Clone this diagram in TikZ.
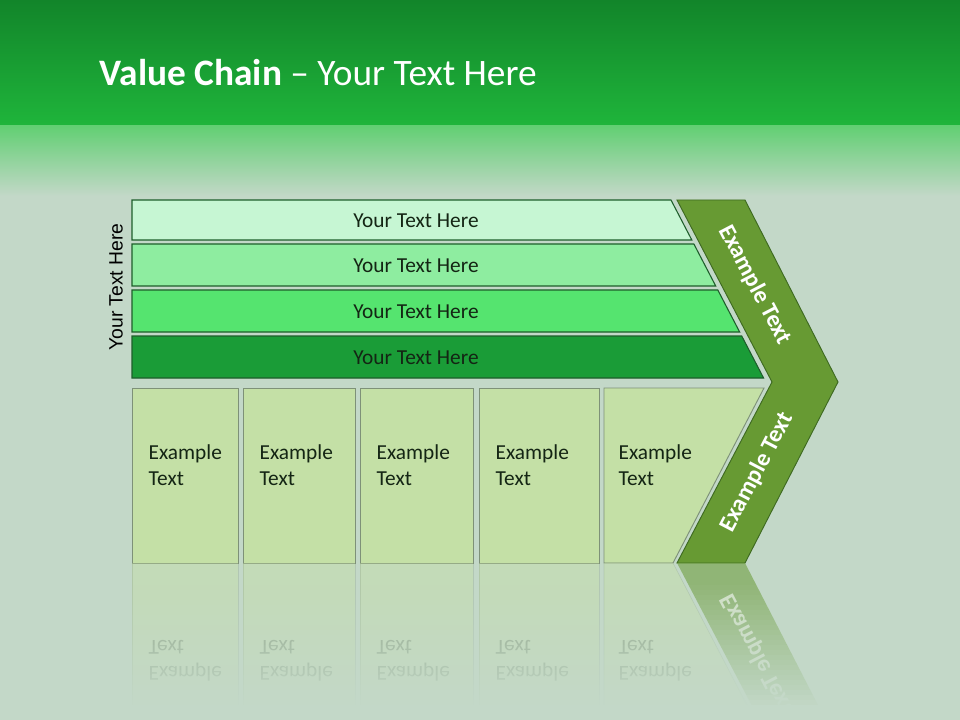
\documentclass[tikz,border=0pt]{standalone}
\usepackage{fontspec}
\setmainfont{Carlito}
\newfontfamily\labelfont{Liberation Sans}
\definecolor{hdtop}{HTML}{12852A}
\definecolor{hdbot}{HTML}{1FB53B}
\definecolor{hdfade}{HTML}{62CF73}
\definecolor{bodybg}{HTML}{C3D8C8}
\definecolor{barA}{HTML}{C6F6D3}
\definecolor{barB}{HTML}{8EEDA0}
\definecolor{barC}{HTML}{55E46F}
\definecolor{barD}{HTML}{1A9C37}
\definecolor{barline}{HTML}{1E5E2B}
\definecolor{cellfill}{HTML}{C4E0A6}
\definecolor{cellline}{HTML}{7E9178}
\definecolor{chevfill}{HTML}{679A33}
\definecolor{chevline}{HTML}{3E6A21}
\definecolor{inktext}{HTML}{142514}

\begin{document}
\begin{tikzpicture}[x = 0.75pt, y = -0.75pt,
    bar/.style = {draw = barline, line width = 0.8pt},
    bartext/.style = {text = inktext, font = \fontsize{16}{19}\selectfont},
    cell/.style = {draw = cellline, line width = 0.7pt, fill = cellfill},
    celltext/.style = {anchor = west, align = left, text = inktext, font = \fontsize{16}{19.5}\selectfont},
    chev/.style = {draw = chevline, line width = 0.7pt, fill = chevfill},
    chevtext/.style = {text = white, font = \bfseries\fontsize{18}{21}\selectfont}]
    % background and title
    \useasboundingbox (0,0) rectangle (960,720);
    \fill[bodybg] (0,0) rectangle (960,720);
    \shade[top color = hdtop, bottom color = hdbot] (0,0) rectangle (960,126);
    \shade[top color = hdfade, bottom color = bodybg] (0,126) rectangle (960,196);
    \node[anchor = west, text = white, font = \fontsize{28}{34}\selectfont] (title) at (95,73) {\textbf{Value Chain} – Your Text Here};

    % bars
    \foreach \t/\b/\col [count=\i] in {200/240/barA, 244/286/barB, 290/332/barC, 336/378/barD} {
        \draw[bar, fill = \col] (132,\t) -- ({671+0.52*(\t-200)},\t) -- ({671+0.52*(\b-200)},\b) -- (132,\b) -- cycle;
        \node[bartext] (bar\i) at (416,{(\t+\b)/2+1}) {Your Text Here};
    }
    \node[rotate = 90, font = \labelfont\fontsize{14.5}{17}\selectfont] (side) at (116,287) {Your Text Here};

    % cells
    \foreach \l/\r [count=\i] in {132/238, 243/355, 360/473, 479/599} {
        \draw[cell] (\l,388) rectangle (\r,563);
        \node[celltext] (cell\i) at (\l+12,465) {Example\\Text};
    }
    \draw[cell] (604,388) -- (764,388) -- (673,563) -- (604,563) -- cycle;
    \node[celltext] (cell5) at (614,465) {Example\\Text};

    % chevron
    \draw[chev] (677,200) -- (745,200) -- (838,382) -- (745,563) -- (677,563) -- (772,382) -- cycle;
    \node[chevtext, rotate = -62.4] (chevup) at (755,285) {Example Text};
    \node[chevtext, rotate = 62.4] (chevdown) at (757,472) {Example Text};

    % reflection
    \foreach \l/\r in {132/238, 243/355, 360/473, 479/599} {
        \filldraw[cellfill, draw = cellline, fill opacity = .45, draw opacity = .25] (\l,563) rectangle (\r,730);
        \node[celltext, yscale = -1, opacity = .3] at (\l+12,661) {Example\\Text};
    }
    \filldraw[cellfill, draw = cellline, fill opacity = .45, draw opacity = .25] (604,563) -- (673,563) -- (764,738) -- (604,738) -- cycle;
    \node[celltext, yscale = -1, opacity = .3] at (614,661) {Example\\Text};
    \fill[chevfill, opacity = .55] (677,563) -- (745,563) -- (838,744) -- (772,744) -- cycle;
    \node[chevtext, yscale = -1, rotate = 62.4, opacity = .6] at (757,654) {Example Text};
    \foreach \k [evaluate = \k as \op using \k/25] in {0,...,25}
        \fill[bodybg, opacity = \op] (120,{580+\k*5}) rectangle (860,{585+\k*5});
    \fill[bodybg] (120,710) rectangle (860,720);
\end{tikzpicture}
\end{document}
